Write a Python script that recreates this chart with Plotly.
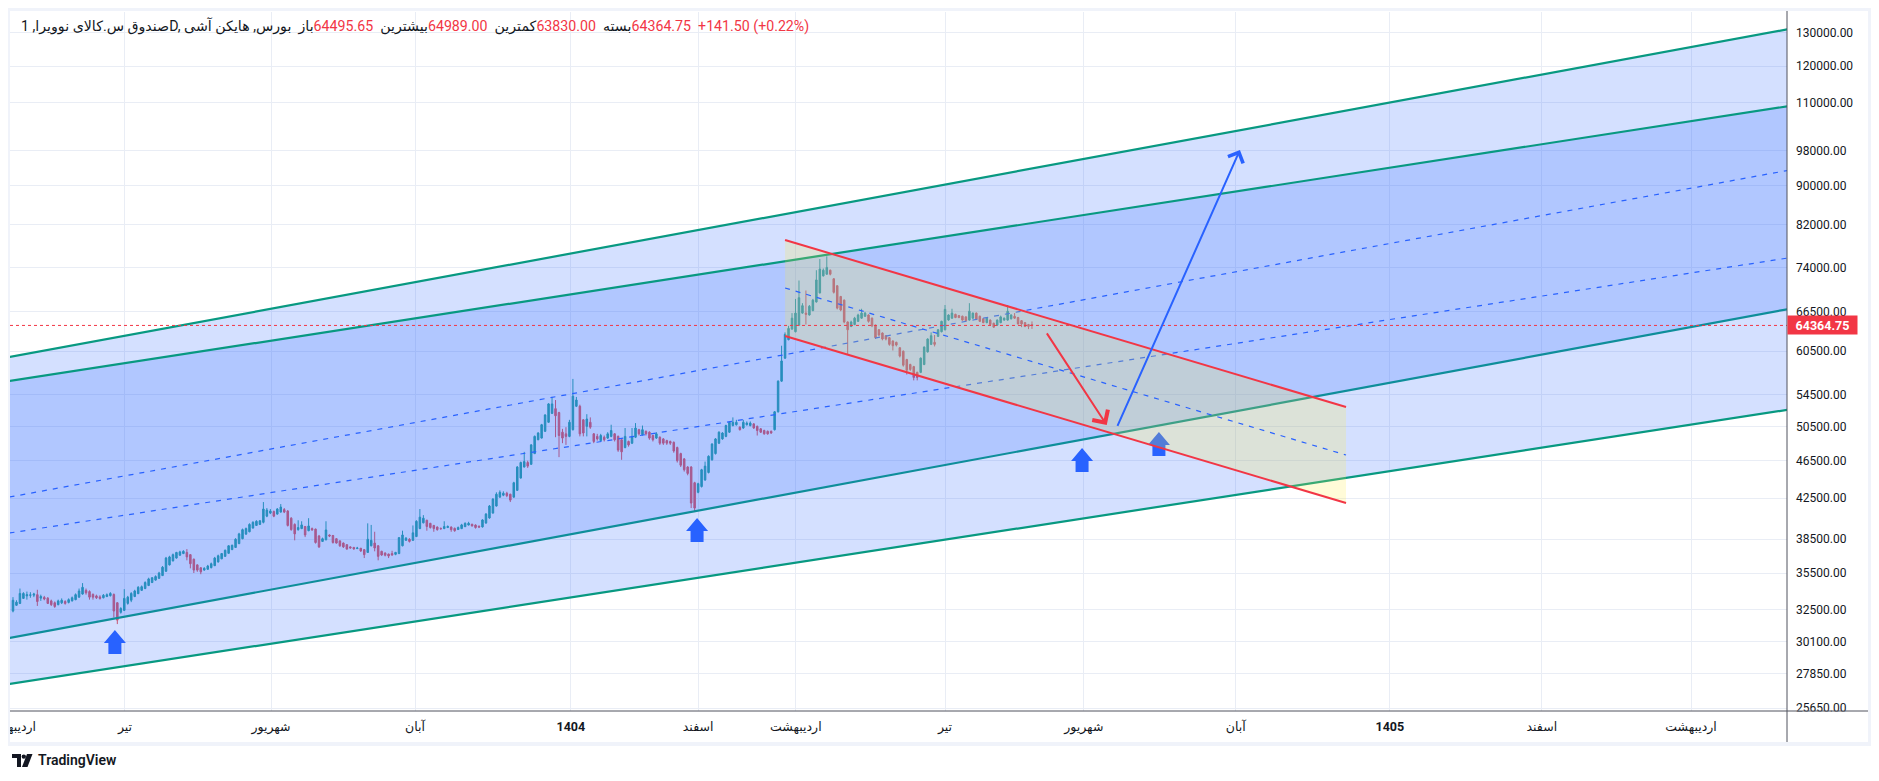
import math

import plotly.graph_objects as go

# Heikin Ashi candles, one per trading session (x = bar number)
ha_open = [
    32400, 32850, 33000, 33400, 33600, 33650, 33660, 33700, 33420, 33480,
    33420, 33200, 33050, 32900, 33050, 33150, 33080, 33200, 33300, 33500,
    33750, 34050, 33950, 33720, 33600, 33520, 33450, 33550, 33620, 33710,
    33050, 32300, 32450, 33000, 33250, 33550, 33780, 34050, 34200, 34450,
    34700, 34900, 35050, 35280, 35650, 36200, 36550, 36800, 37050, 37200,
    37300, 37100, 36700, 36200, 35950, 35750, 35820, 35960, 36130, 36460,
    36730, 36950, 37220, 37560, 37750, 38100, 38550, 38980, 39200, 39550,
    39800, 39900, 40100, 40700, 41000, 41150, 40900, 41100, 41350, 41200,
    40500, 39900, 39400, 39500, 39700, 39300, 39500, 39450, 38800, 38300,
    38450, 38900, 38850, 38550, 38350, 38150, 38000, 37800, 37750, 37650,
    37680, 37550, 37300, 37900, 38150, 37900, 37400, 37250, 37150, 37200,
    37130, 37200, 37900, 38400, 38500, 38400, 38750, 39500, 40050, 40300,
    40000, 39800, 39650, 39520, 39500, 39600, 39650, 39520, 39410, 39500,
    39680, 39840, 39920, 39840, 39720, 39660, 40040, 40520, 41000, 41700,
    42600, 42800, 43000, 42900, 42600, 43300, 44600, 45800, 46300, 46100,
    47300, 48900, 49100, 49900, 51000, 52100, 52700, 52200, 49800, 49600,
    49300, 50100, 53000, 53000, 51300, 50500, 51000, 49600, 49300, 48800,
    49200, 49100, 49300, 49600, 49300, 48900, 48000, 48700, 48500, 49200,
    50100, 49500, 49900, 49800, 49400, 49100, 49200, 49000, 48800, 48700,
    48600, 48000, 47300, 46700, 45800, 45800, 44100, 43100, 43700, 44400,
    45200, 46600, 47300, 48500, 49000, 49300, 49800, 50600, 50700, 50400,
    50300, 50700, 50600, 50800, 50500, 50200, 50000, 49900, 49900, 50100,
    52300, 56300, 59500, 62200, 63800, 63400, 64400, 66300, 66300, 66000,
    66700, 68100, 69600, 72500, 72800, 73500, 72000, 70800, 69000, 68400,
    64900, 64200, 64500, 65000, 65500, 65800, 66000, 65500, 64400, 63700,
    63200, 62800, 62500, 62000, 61800, 61000, 60500, 59300, 58600, 58300,
    57500, 57500, 58600, 60400, 61500, 61800, 62700, 63400, 63700, 65200,
    65500, 66100, 65900, 65800, 65700, 65200, 65500, 66300, 65800, 65400,
    64800, 65200, 64700, 64400, 64800, 65200, 65200, 65400, 65800, 65600,
    65100, 64800, 64500, 64495.65,
]
ha_high = [
    33500, 33250, 34200, 33900, 33950, 33900, 33850, 34100, 33700, 33600,
    33500, 33300, 33150, 33300, 33400, 33250, 33400, 33550, 33800, 34200,
    34650, 34200, 34050, 33800, 33700, 33650, 33750, 33800, 33900, 33800,
    33100, 32700, 34150, 33600, 33900, 34100, 34400, 34450, 34800, 35100,
    35150, 35300, 35600, 36100, 36900, 37000, 37200, 37350, 37450, 37500,
    37600, 37150, 36750, 36250, 36000, 36000, 36200, 36400, 36900, 37100,
    37250, 37550, 37950, 38000, 38600, 39100, 39500, 39600, 40000, 40200,
    40300, 40300, 42100, 41500, 41400, 41250, 41500, 41900, 41500, 41300,
    40600, 40000, 40300, 40200, 39750, 40500, 39600, 39500, 38900, 38650,
    40200, 38950, 38900, 38600, 38400, 38200, 38050, 37850, 37800, 37800,
    37700, 37600, 40000, 39850, 39200, 37950, 37450, 37300, 37200, 37450,
    37350, 38700, 39300, 38700, 38600, 39800, 40300, 41400, 40800, 40350,
    40050, 39850, 39700, 39600, 40200, 39800, 39700, 39600, 39700, 39950,
    40100, 40150, 39950, 39900, 39800, 40400, 41000, 41800, 42500, 43100,
    43300, 43200, 43150, 42950, 44200, 45900, 46400, 47500, 46500, 48400,
    49400, 49800, 50800, 52000, 53400, 54200, 53800, 52300, 50200, 50400,
    51300, 56600, 54200, 53200, 51400, 52000, 51600, 49700, 49600, 49600,
    49400, 49800, 50700, 49700, 49400, 49000, 50300, 48800, 50300, 50900,
    50200, 50600, 50000, 49900, 49500, 49800, 49300, 49100, 48900, 48800,
    48700, 48100, 47400, 46800, 45900, 45900, 44200, 44100, 45600, 46400,
    47100, 48500, 49100, 49900, 49800, 50700, 51100, 51600, 51300, 50500,
    51300, 51100, 51100, 50900, 50600, 50300, 50100, 50000, 50000, 52400,
    56400, 61300, 63300, 64300, 66300, 68600, 71700, 67900, 70000, 67600,
    68600, 73500, 75500, 73800, 76000, 73600, 72100, 70900, 69100, 68500,
    65000, 65100, 65700, 66200, 67000, 66500, 66100, 65600, 64500, 63800,
    63300, 62900, 62600, 62100, 61900, 61100, 60600, 59400, 58700, 58400,
    57600, 59600, 61200, 62400, 63300, 62900, 63800, 65100, 67600, 66100,
    67000, 66200, 66000, 65900, 65800, 67900, 66400, 66400, 65900, 65500,
    65600, 65300, 64800, 65300, 65900, 65600, 67600, 66100, 66300, 65700,
    65200, 64900, 64600, 64989.00,
]
ha_low = [
    32300, 32800, 32950, 33350, 33300, 33450, 33500, 32800, 33200, 33250,
    32950, 32800, 32650, 32850, 32950, 32900, 33000, 33150, 33250, 33450,
    33700, 33700, 33300, 33300, 33350, 33300, 33400, 33500, 33550, 31900,
    31400, 32200, 32400, 32900, 33100, 33500, 33750, 34000, 34150, 34400,
    34650, 34850, 35000, 35250, 35600, 36150, 36500, 36750, 37000, 37150,
    36600, 35900, 35500, 35600, 35400, 35700, 35780, 35900, 36100, 36400,
    36700, 36900, 37200, 37500, 37700, 38050, 38500, 38900, 39150, 39500,
    39750, 39850, 40000, 40600, 40900, 40600, 40850, 41050, 41000, 39700,
    39300, 38400, 39300, 39450, 38700, 39250, 39300, 38100, 37700, 38250,
    38400, 38700, 38100, 38100, 37800, 37700, 37550, 37650, 37550, 37600,
    37350, 36800, 37250, 37850, 37400, 36600, 37000, 36950, 36800, 37000,
    37050, 37150, 37850, 38350, 38200, 38350, 38700, 39450, 40000, 39300,
    39500, 39200, 39300, 39400, 39450, 39550, 39200, 39200, 39380, 39450,
    39650, 39800, 39700, 39500, 39550, 39600, 39950, 40450, 40950, 41650,
    42550, 42700, 42600, 42100, 42550, 43250, 44550, 45750, 45700, 46050,
    47250, 48850, 49050, 49850, 50950, 52050, 49200, 46900, 48500, 48300,
    49200, 50000, 52900, 49300, 49300, 49300, 50200, 48500, 48800, 48700,
    48700, 49000, 49200, 48700, 47500, 46600, 47900, 48100, 48400, 49100,
    49400, 49400, 49400, 48900, 48700, 49000, 48300, 48300, 48300, 48300,
    47400, 46300, 45800, 45300, 44900, 41500, 41100, 43000, 43600, 44300,
    45100, 46500, 47200, 48400, 48900, 49200, 49700, 50500, 50600, 50000,
    50200, 50600, 50500, 50200, 49400, 49700, 49500, 49500, 49600, 50000,
    52200, 56200, 59400, 62100, 63700, 63300, 64300, 66200, 64500, 65900,
    66600, 68000, 69500, 72400, 72700, 72600, 69500, 66900, 66600, 64700,
    60000, 64100, 64400, 64900, 65400, 65700, 64800, 64100, 62300, 62700,
    62100, 62100, 61300, 60600, 61200, 59600, 58300, 57200, 57700, 56400,
    56400, 57400, 58500, 60300, 61400, 61200, 62600, 63300, 63600, 65100,
    65400, 65500, 65500, 65100, 65000, 65100, 65400, 65200, 64900, 64700,
    64700, 64400, 64000, 64300, 64700, 65100, 65100, 65300, 65400, 64500,
    64100, 64100, 63800, 63830.00,
]
ha_close = [
    33250, 33100, 33800, 33800, 33700, 33680, 33750, 33150, 33550, 33350,
    33000, 32900, 32750, 33200, 33250, 33000, 33300, 33450, 33700, 34000,
    34300, 33850, 33500, 33500, 33450, 33400, 33650, 33700, 33800, 32400,
    31700, 32600, 33400, 33500, 33800, 34000, 34300, 34350, 34700, 35000,
    35100, 35200, 35500, 36000, 36800, 36900, 37100, 37300, 37350, 37400,
    36900, 36300, 35750, 35750, 35600, 35900, 36100, 36300, 36800, 37000,
    37200, 37500, 37900, 37950, 38500, 39000, 39400, 39500, 39900, 40100,
    40200, 40250, 41400, 41300, 41200, 40700, 41400, 41600, 41100, 39800,
    39400, 39000, 39600, 39850, 38900, 39750, 39370, 38200, 37800, 38550,
    39370, 38800, 38200, 38150, 37900, 37800, 37600, 37700, 37610, 37700,
    37430, 37100, 38500, 38400, 37700, 36950, 37070, 37050, 36980, 37070,
    37300, 38650, 38900, 38600, 38300, 39100, 40200, 40600, 40500, 39700,
    39600, 39500, 39400, 39480, 39700, 39700, 39400, 39300, 39600, 39850,
    40000, 40000, 39750, 39600, 39650, 40330, 40900, 41700, 42400, 42900,
    43100, 43000, 42750, 42300, 44100, 45800, 46300, 46400, 45900, 48300,
    49300, 49700, 50700, 51900, 53300, 53300, 51800, 49400, 49100, 49300,
    51000, 54300, 53800, 49600, 49700, 51400, 50400, 48700, 49000, 49400,
    48900, 49600, 50000, 48900, 47700, 47500, 49300, 48300, 49300, 50300,
    49600, 50100, 49600, 49100, 48900, 49600, 48500, 48500, 48500, 48500,
    47600, 46500, 46000, 45500, 45100, 42000, 41500, 44000, 45500, 45900,
    47000, 48400, 49000, 49800, 49700, 50600, 51000, 51000, 51000, 50100,
    51000, 50900, 50900, 50300, 50000, 49800, 49600, 49600, 49700, 52300,
    56300, 59100, 63000, 63900, 65500, 66300, 68800, 67500, 66100, 67400,
    68400, 71800, 73700, 73500, 74000, 72800, 69700, 67100, 66800, 64900,
    63700, 64900, 65500, 66000, 66300, 66300, 65000, 64300, 62500, 62900,
    62300, 62300, 61500, 61300, 61400, 59800, 58500, 57800, 57900, 56800,
    56800, 59500, 61100, 62300, 62800, 61500, 63700, 65000, 66900, 66000,
    66300, 65600, 65600, 65200, 65100, 66600, 66300, 65300, 65000, 64800,
    65500, 64500, 64100, 65200, 65700, 65500, 66600, 66000, 65500, 64600,
    64600, 64200, 64223.25, 64364.75,
]
bars = list(range(len(ha_close)))

# time axis: labels as printed on the chart, placed at bar positions
month_pos = [-0.8, 32.2, 74.2, 115.6, 160.4, 197.0, 225.1, 268.0, 307.9, 351.6, 395.9, 439.6, 482.5]
month_text = ['اردیبهشت', 'تیر', 'شهریور', 'آبان', '<b>1404</b>', 'اسفند', 'اردیبهشت',
              'تیر', 'شهریور', 'آبان', '<b>1405</b>', 'اسفند', 'اردیبهشت']

price_ticks = [130000, 120000, 110000, 98000, 90000, 82000, 74000, 66500, 60500, 54500,
               50500, 46500, 42500, 38500, 35500, 32500, 30100, 27850, 25650]

# drawings, anchored at (bar, price)
channel_x = [-1, 511]
outer_top = [59670, 131300]
outer_low = [30370, 67000]
outer_mid = [42610, 93520]
inner_top = [56310, 109100]
inner_low = [27190, 52600]
inner_mid = [39080, 75750]

fall_x = [222.0, 383.3]
fall_top = [79040, 52900]
fall_low = [62750, 42000]
fall_mid = [70420, 47140]

down_tail = (297.0, 63370)
down_tip = (314.5, 50660)
up_tail = (317.4, 50380)
up_tip = (352.8, 98120)

mark_bars = [29.3, 196.7, 307.4, 329.5]
mark_prices = [30950, 40520, 47940, 49820]

symbol_title = 'صندوق س.کالای نوویرا, 1D, بورس, هایکن آشی'
ohlc_labels = ['باز', 'بیشترین', 'کمترین', 'بسته']

TEAL = '#089981'
BLUE = '#2962ff'
RED = '#f23645'
UP = '#26a69a'
DOWN = '#ef5350'
TEXT = '#131722'
FONT = 'Roboto, DejaVu Sans, sans-serif'

# the page body keeps its default 8px margin, so the figure is drawn 8px smaller
# and every screen position below is given in window pixels
PAGE_PAD = 8
W, H = 1879 - 2 * PAGE_PAD, 781 - 2 * PAGE_PAD
PLOT_X0, PLOT_X1, PLOT_Y0, PLOT_Y1 = 10, 1787, 12, 711
L = PLOT_X0 - PAGE_PAD
T = PLOT_Y0 - PAGE_PAD
R = W - (PLOT_X1 - PAGE_PAD)
B = H - (PLOT_Y1 - PAGE_PAD)


def px_x(px):
    return (px - PLOT_X0) / (PLOT_X1 - PLOT_X0)


def px_y(py):
    return (PLOT_Y1 - py) / (PLOT_Y1 - PLOT_Y0)


def line(xs, ys, color, width, dash=None, fill=None, fillcolor=None):
    return go.Scatter(x=xs, y=ys, mode='lines', line=dict(color=color, width=width, dash=dash),
                      fill=fill, fillcolor=fillcolor, hoverinfo='skip', showlegend=False)


fig = go.Figure()

# rising channels
fig.add_trace(line(channel_x, outer_top, TEAL, 2.2))
fig.add_trace(line(channel_x, outer_low, TEAL, 2.2, fill='tonexty', fillcolor='rgba(41,98,255,0.2)'))
fig.add_trace(line(channel_x, inner_top, TEAL, 2.2))
fig.add_trace(line(channel_x, inner_low, TEAL, 2.2, fill='tonexty', fillcolor='rgba(41,98,255,0.2)'))
fig.add_trace(line(channel_x, outer_mid, BLUE, 1.2, dash='5px,6px'))
fig.add_trace(line(channel_x, inner_mid, BLUE, 1.2, dash='5px,6px'))

# falling channel
fig.add_trace(line(fall_x, fall_top, RED, 2))
fig.add_trace(line(fall_x, fall_low, RED, 2, fill='tonexty', fillcolor='rgba(255,235,59,0.2)'))
fig.add_trace(line(fall_x, fall_mid, BLUE, 1.2, dash='5px,6px'))

fig.add_trace(go.Candlestick(
    x=bars, open=ha_open, high=ha_high, low=ha_low, close=ha_close,
    increasing=dict(line=dict(color=UP, width=1), fillcolor=UP),
    decreasing=dict(line=dict(color=DOWN, width=1), fillcolor=DOWN),
    whiskerwidth=0, hoverinfo='skip', showlegend=False,
))

shapes = []
# blue arrow marks under the bars
arrow_path = 'M0,0 L11,-13 L6.5,-13 L6.5,-24 L-6.5,-24 L-6.5,-13 L-11,-13 Z'
for bx, by in zip(mark_bars, mark_prices):
    shapes.append(dict(type='path', xref='x', yref='y', xsizemode='pixel', ysizemode='pixel',
                       xanchor=bx, yanchor=by, path=arrow_path, fillcolor=BLUE,
                       line=dict(width=0), layer='between'))

last_close = ha_close[-1]
shapes.append(dict(type='line', xref='paper', yref='y', x0=0, x1=1, y0=last_close, y1=last_close,
                   line=dict(color=RED, width=1, dash='dot'), layer='above'))

# frame
frame = '#f0f3fa'
shapes += [
    dict(type='rect', xref='paper', yref='paper', x0=px_x(1787.5), x1=px_x(1868), y0=px_y(711.5), y1=px_y(742),
         fillcolor='white', line=dict(width=0), layer='above'),
    dict(type='rect', xref='paper', yref='paper', x0=px_x(0), x1=px_x(1879), y0=px_y(0), y1=px_y(11),
         fillcolor=frame, line=dict(width=0), layer='above'),
    dict(type='rect', xref='paper', yref='paper', x0=px_x(0), x1=px_x(10), y0=px_y(0), y1=px_y(746),
         fillcolor=frame, line=dict(width=0), layer='above'),
    dict(type='rect', xref='paper', yref='paper', x0=px_x(1868), x1=px_x(1879), y0=px_y(0), y1=px_y(746),
         fillcolor=frame, line=dict(width=0), layer='above'),
    dict(type='rect', xref='paper', yref='paper', x0=px_x(0), x1=px_x(1879), y0=px_y(742), y1=px_y(746),
         fillcolor=frame, line=dict(width=0), layer='above'),
    dict(type='line', xref='paper', yref='paper', x0=px_x(1787), x1=px_x(1787), y0=px_y(11), y1=px_y(742),
         line=dict(color='#50535e', width=1), layer='above'),
    dict(type='line', xref='paper', yref='paper', x0=px_x(10), x1=px_x(1868), y0=px_y(711), y1=px_y(711),
         line=dict(color='#50535e', width=1), layer='above'),
]
# TradingView logo
logo_anchor = dict(xref='paper', yref='paper', xsizemode='pixel', ysizemode='pixel',
                   xanchor=px_x(12), yanchor=px_y(767), fillcolor=TEXT, line=dict(width=0), layer='above')
shapes += [
    dict(type='path', path='M0,13 H9 V0 H5 V9 H0 Z', **logo_anchor),
    dict(type='circle', x0=9.6, x1=14, y0=8.2, y1=12.6, **logo_anchor),
    dict(type='path', path='M15,13 H20.5 L15.5,0 H10 Z', **logo_anchor),
]

lrm = '\u200e'
nb = '\u00a0\u00a0'
values = [ha_open[-1], ha_high[-1], ha_low[-1], ha_close[-1]]
change = ha_close[-1] - ha_close[-2]
pct = 100 * change / ha_close[-2]
header = symbol_title + lrm + nb
for lab, val in zip(ohlc_labels, values):
    header += f"{lab}{lrm}<span style='color:{RED}'>{val:.2f}</span>{lrm}{nb}"
header += f"<span style='color:{RED}'>{change:+.2f} ({pct:+.2f}%)</span>"

annotations = [
    dict(xref='paper', yref='paper', x=px_x(19), y=px_y(26), xanchor='left', yanchor='middle',
         text=header, showarrow=False, font=dict(family=FONT, size=14.2, color=TEXT)),
    dict(xref='paper', yref='y', x=1, y=math.log10(last_close), xanchor='left', yanchor='middle',
         text=f'<b>{last_close:.2f}</b>', showarrow=False, bgcolor=RED, borderpad=2, width=65, height=14,
         font=dict(family=FONT, size=12.5, color='white')),
    dict(xref='x', yref='y', axref='x', ayref='y', x=down_tip[0], y=math.log10(down_tip[1]),
         ax=down_tail[0], ay=math.log10(down_tail[1]), text='', showarrow=True, arrowhead=4,
         arrowsize=1.8, arrowwidth=2, arrowcolor=RED, standoff=0),
    dict(xref='x', yref='y', axref='x', ayref='y', x=up_tip[0], y=math.log10(up_tip[1]),
         ax=up_tail[0], ay=math.log10(up_tail[1]), text='', showarrow=True, arrowhead=4,
         arrowsize=1.6, arrowwidth=2, arrowcolor=BLUE, standoff=0),
    dict(xref='paper', yref='paper', x=px_x(36), y=px_y(760), xanchor='left', yanchor='middle',
         text='TradingView', showarrow=False, font=dict(family=FONT, size=14, color=TEXT, weight=600)),
]

grid = '#e9edf5'
fig.update_layout(
    width=W, height=H,
    margin=dict(l=L, r=R, t=T, b=B, pad=0, autoexpand=False),
    paper_bgcolor='white', plot_bgcolor='white',
    showlegend=False, hovermode=False, boxgap=0.38,
    shapes=shapes, annotations=annotations,
    xaxis=dict(
        type='linear', range=[-0.86, 510.1], rangeslider=dict(visible=False), automargin=False,
        tickvals=month_pos, ticktext=month_text, showgrid=True, gridcolor=grid, gridwidth=1,
        zeroline=False, showline=False, ticks='', ticklabelstandoff=6, ticklabeloverflow='allow',
        tickfont=dict(family=FONT, size=12.5, color=TEXT),
    ),
    yaxis=dict(
        type='log', side='right', range=[4.4062, 5.1358], automargin=False,
        tickvals=price_ticks, ticktext=[f'{v:.2f}' for v in price_ticks],
        showgrid=True, gridcolor=grid, gridwidth=1, zeroline=False, showline=False,
        ticks='', ticklabelstandoff=8, tickfont=dict(family=FONT, size=12, color=TEXT),
    ),
)

fig.write_html("out.html")
